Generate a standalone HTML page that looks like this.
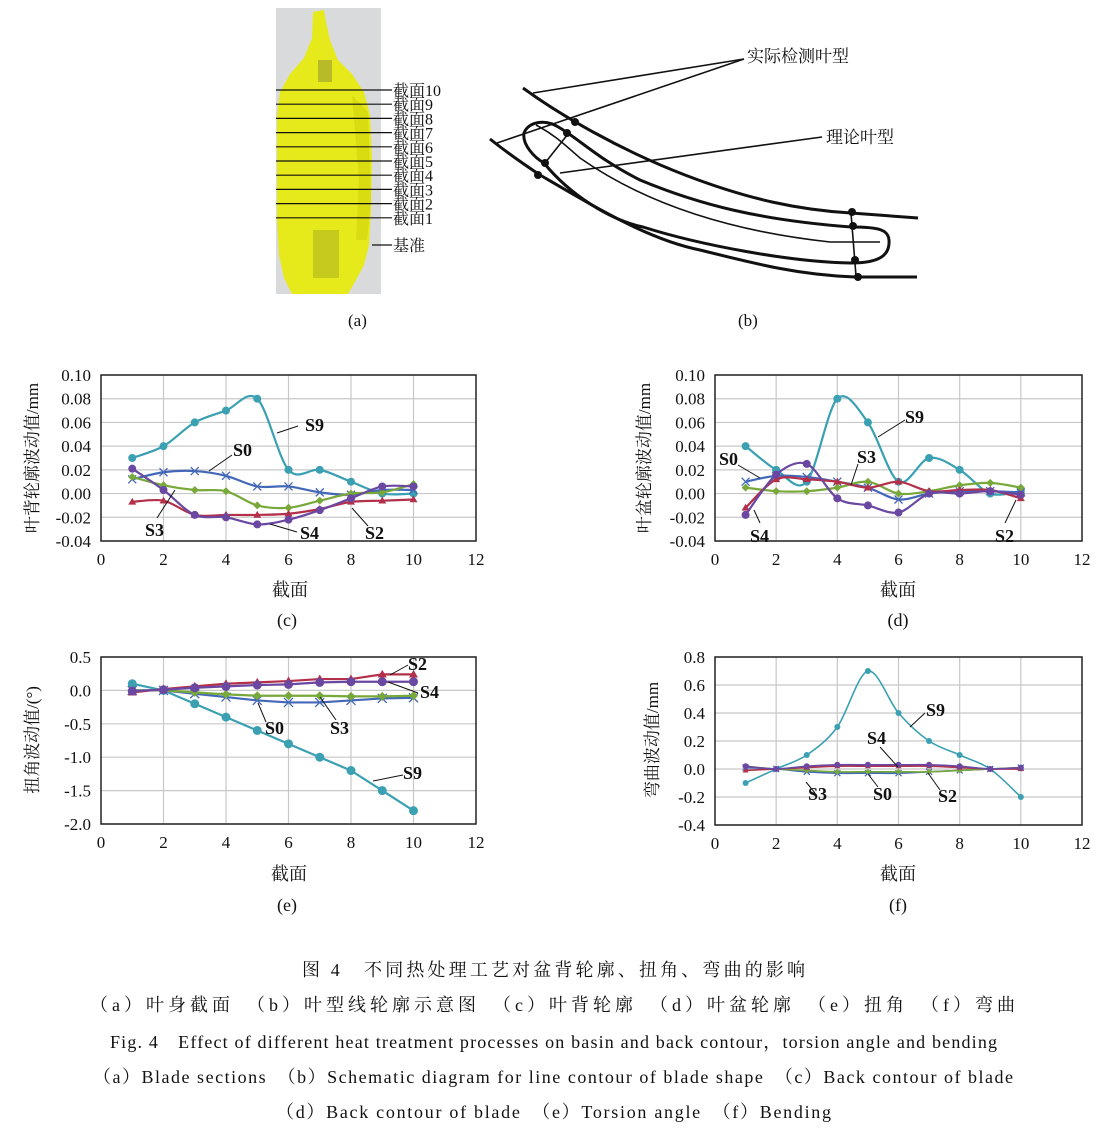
<!DOCTYPE html>
<html><head><meta charset="utf-8"><style>
html,body{margin:0;padding:0;background:#fff;}
svg{display:block}
text{font-family:"Liberation Serif","Noto Serif CJK SC",serif;fill:#111}
</style></head><body>
<svg id="s" width="1120" height="1130" viewBox="0 0 1120 1130" xmlns="http://www.w3.org/2000/svg">
<rect x="276" y="8" width="105" height="286" fill="#d9dadb"/>
<path d="M313,12 L324,10 L326,22 L330,40 L338,60 L352,74 L364,92 L370,115 L372,160 L371,210 L369,245 L364,265 L356,280 L348,294 L292,294 L284,278 L279,255 L277,220 L277,115 L280,92 L290,74 L304,58 L312,38 Z" fill="#e6ea1a"/>
<path d="M352,95 L368,112 L371,200 L367,240 L356,240 L359,180 Z" fill="#d2d60e" opacity="0.7"/>
<rect x="318" y="60" width="14" height="22" fill="#9a9a30" opacity="0.6"/>
<rect x="313" y="230" width="26" height="48" fill="#b8bc20" opacity="0.7"/>
<g stroke="#111" stroke-width="1.2" id="seclines"></g>
<g font-size="16" id="seclabels"></g>
<line x1="372" y1="245" x2="392" y2="245" stroke="#111" stroke-width="1.2"/>
<text x="393" y="251" font-size="16">基准</text>
<text x="348" y="326" font-size="17">(a)</text>
<g fill="none" stroke="#111" stroke-width="3">
<path d="M523,88 C560,115 620,150 685,175 C750,200 800,210 851,213 L918,218"/>
<path d="M490,139 C510,155 525,165 540,175 C600,210 650,240 700,250 C760,265 800,275 855,277 L917,277"/>
<path d="M851,227 C760,220 700,205 640,180 C600,160 580,140 560,128 C545,118 528,122 524,133 C522,145 535,158 544,163 C570,195 610,220 643,227 C700,245 790,262 851,263 C880,263 890,255 889,240 C888,230 880,227 851,227"/>
</g>
<g fill="none" stroke="#111" stroke-width="1.6">
<path d="M536,125 C555,135 565,145 580,158 C640,200 720,230 830,242 L880,242"/>
<path d="M568,134 L545,163"/>
<path d="M851,213 L856,276"/>
<line x1="744" y1="59" x2="533" y2="93"/>
<line x1="744" y1="59" x2="497" y2="143"/>
<line x1="822" y1="137" x2="560" y2="173"/>
</g>
<g fill="#111"><circle cx="575" cy="122" r="4"/><circle cx="567" cy="133" r="4"/><circle cx="545" cy="163" r="4"/><circle cx="538" cy="175" r="4"/><circle cx="852" cy="212" r="4"/><circle cx="853" cy="226" r="4"/><circle cx="855" cy="260" r="4"/><circle cx="858" cy="277" r="4"/></g>
<text x="747" y="62" font-size="17">实际检测叶型</text>
<text x="826" y="143" font-size="17">理论叶型</text>
<text x="738" y="326" font-size="17">(b)</text>
<g id="charts"></g>
<g font-size="18" text-anchor="middle">
<text x="287" y="626">(c)</text><text x="898" y="626">(d)</text>
<text x="287" y="911">(e)</text><text x="898" y="911">(f)</text>
<text x="290" y="596">截面</text><text x="898" y="596">截面</text>
<text x="289" y="880">截面</text><text x="898" y="880">截面</text>
</g>
<g font-size="18">
<text x="302" y="976" textLength="503" lengthAdjust="spacing">图 4　不同热处理工艺对盆背轮廓、扭角、弯曲的影响</text>
<text x="90" y="1011" textLength="925" lengthAdjust="spacing">（a）叶身截面　（b）叶型线轮廓示意图　（c）叶背轮廓　（d）叶盆轮廓　（e）扭角　（f）弯曲</text>
<text x="110" y="1048" textLength="887" lengthAdjust="spacing">Fig. 4　Effect of different heat treatment processes on basin and back contour，torsion angle and bending</text>
<text x="93" y="1083" textLength="920" lengthAdjust="spacing">（a）Blade sections　（b）Schematic diagram for line contour of blade shape　（c）Back contour of blade</text>
<text x="276" y="1118" textLength="555" lengthAdjust="spacing">（d）Back contour of blade　（e）Torsion angle　（f）Bending</text>
</g>
</svg>
<script>
var NS="http://www.w3.org/2000/svg";
function el(p,t,a,txt){var e=document.createElementNS(NS,t);for(var k in a)e.setAttribute(k,a[k]);if(txt!=null)e.textContent=txt;p.appendChild(e);return e;}
var sl=document.getElementById('seclines'),sb=document.getElementById('seclabels');
for(var i=0;i<10;i++){var y=90+i*14.2;el(sl,'line',{x1:276,y1:y,x2:392,y2:y});el(sb,'text',{x:393,y:y+6},'截面'+(10-i));}
var G=document.getElementById('charts');
var C={S9:'#3aa0b2',S0:'#4468b8',S3:'#78a83a',S2:'#b2304a',S4:'#6a48a2'};
var M={S9:'c',S0:'x',S3:'d',S2:'t',S4:'c'};
function smooth(pts){var d='M'+pts[0][0]+','+pts[0][1];for(var i=0;i<pts.length-1;i++){var p0=pts[i-1]||pts[i],p1=pts[i],p2=pts[i+1],p3=pts[i+2]||p2;var t=0.16;d+=' C'+(p1[0]+(p2[0]-p0[0])*t)+','+(p1[1]+(p2[1]-p0[1])*t)+' '+(p2[0]-(p3[0]-p1[0])*t)+','+(p2[1]-(p3[1]-p1[1])*t)+' '+p2[0]+','+p2[1];}return d;}
function chart(o){
 var g=el(G,'g',{});
 var X=function(v){return o.x0+(o.x1-o.x0)*v/12},Y=function(v){return o.y0+(o.y1-o.y0)*(o.ymax-v)/(o.ymax-o.ymin)};
 for(var k=2;k<12;k+=2)el(g,'line',{x1:X(k),y1:o.y0,x2:X(k),y2:o.y1,stroke:'#c8c8c8','stroke-width':1.2});
 for(var v=o.ymin;v<=o.ymax+1e-9;v+=o.step){el(g,'line',{x1:o.x0,y1:Y(v),x2:o.x1,y2:Y(v),stroke:'#c8c8c8','stroke-width':1.2});
  el(g,'text',{x:o.x0-10,y:Y(v)+6,'font-size':17,'text-anchor':'end'},v.toFixed(o.dec));}
 el(g,'rect',{x:o.x0,y:o.y0,width:o.x1-o.x0,height:o.y1-o.y0,fill:'none',stroke:'#222','stroke-width':1.5});
 for(var k=0;k<=12;k+=2)el(g,'text',{x:X(k),y:o.y1+24,'font-size':17,'text-anchor':'middle'},k);
 el(g,'text',{transform:'translate('+o.lx+','+o.ly+') rotate(-90)','font-size':17,'text-anchor':'middle'},o.ylab);
 for(var s in o.d){var pts=o.d[s].map(function(v,i){return [X(i+1),Y(v)]});
  el(g,'path',{d:o.lin?('M'+pts.join(' L')):smooth(pts),fill:'none',stroke:C[s],'stroke-width':o.sw});
  pts.forEach(function(p){var r=o.mr,m=M[s];
   if(m=='c')el(g,'circle',{cx:p[0],cy:p[1],r:r,fill:C[s]});
   else if(m=='d')el(g,'path',{d:'M'+p[0]+','+(p[1]-r)+' l'+r+','+r+' l'+(-r)+','+r+' l'+(-r)+','+(-r)+'z',fill:C[s]});
   else if(m=='t')el(g,'path',{d:'M'+p[0]+','+(p[1]-r)+' l'+r+','+(1.7*r)+' l'+(-2*r)+',0z',fill:C[s]});
   else el(g,'path',{d:'M'+(p[0]-r)+','+(p[1]-r)+' l'+2*r+','+2*r+' m0,'+(-2*r)+' l'+(-2*r)+','+2*r,stroke:C[s],'stroke-width':1.3});});}
 o.lab.forEach(function(l){el(g,'line',{x1:l[3],y1:l[4],x2:l[5],y2:l[6],stroke:'#111','stroke-width':1});el(g,'text',{x:l[0],y:l[1],'font-size':18,'font-weight':'bold'},l[2]);});
}
chart({x0:101,x1:476,y0:375,y1:541,ymin:-0.04,ymax:0.10,step:0.02,dec:2,lx:38,ly:458,ylab:'叶背轮廓波动值/mm',sw:2.2,mr:4,
 d:{S9:[0.03,0.04,0.06,0.07,0.08,0.02,0.02,0.01,0,0],S0:[0.012,0.018,0.019,0.015,0.006,0.006,0.001,-0.001,0.003,0.003],S3:[0.014,0.007,0.003,0.002,-0.010,-0.012,-0.006,0,0.001,0.008],S2:[-0.007,-0.006,-0.018,-0.018,-0.018,-0.017,-0.013,-0.007,-0.006,-0.005],S4:[0.021,0.003,-0.018,-0.020,-0.026,-0.022,-0.014,-0.004,0.006,0.006]},
 lab:[[305,431,'S9',277,433,298,426],[233,456,'S0',209,471,232,455],[145,536,'S3',157,518,175,490],[300,539,'S4',270,524,297,532],[365,539,'S2',352,508,368,526]]});
chart({x0:715,x1:1082,y0:375,y1:541,ymin:-0.04,ymax:0.10,step:0.02,dec:2,lx:650,ly:458,ylab:'叶盆轮廓波动值/mm',sw:2.2,mr:4,
 d:{S9:[0.04,0.02,0.01,0.08,0.06,0.01,0.03,0.02,0,0.002],S0:[0.01,0.015,0.014,0.01,0.005,-0.005,0,0.002,0.002,0.001],S3:[0.005,0.002,0.002,0.005,0.01,0,0.002,0.007,0.009,0.005],S2:[-0.012,0.012,0.012,0.01,0.005,0.01,0.002,0.003,0.003,-0.004],S4:[-0.018,0.016,0.025,-0.004,-0.01,-0.016,0,0,0.002,-0.001]},
 lab:[[905,423,'S9',878,437,905,420],[719,465,'S0',738,465,760,478],[857,463,'S3',858,464,851,485],[750,542,'S4',760,523,754,510],[995,542,'S2',1005,523,1016,500]]});
chart({x0:101,x1:476,y0:657,y1:824,ymin:-2.0,ymax:0.5,step:0.5,dec:1,lx:38,ly:740,ylab:'扭角波动值/(°)',sw:2.2,mr:4.5,
 d:{S9:[0.1,0,-0.2,-0.4,-0.6,-0.8,-1.0,-1.2,-1.5,-1.8],S0:[0,0,-0.05,-0.1,-0.15,-0.18,-0.18,-0.15,-0.12,-0.11],S3:[0,0,-0.03,-0.06,-0.08,-0.08,-0.08,-0.09,-0.09,-0.08],S2:[-0.03,0.02,0.06,0.1,0.12,0.14,0.17,0.17,0.24,0.24],S4:[-0.01,0.01,0.04,0.06,0.08,0.09,0.12,0.13,0.13,0.13]},lin:1,
 lab:[[408,670,'S2',390,675,408,665],[420,698,'S4',388,682,418,693],[265,734,'S0',258,703,266,722],[330,734,'S3',320,697,336,720],[403,779,'S9',373,781,403,775]]});
chart({x0:715,x1:1082,y0:657,y1:825,ymin:-0.4,ymax:0.8,step:0.2,dec:1,lx:658,ly:740,ylab:'弯曲波动值/mm',sw:1.6,mr:3,
 d:{S9:[-0.1,0,0.1,0.3,0.7,0.4,0.2,0.1,0,-0.2],S0:[0.01,0,-0.02,-0.03,-0.03,-0.03,-0.02,-0.01,0,0.01],S3:[0.02,0,-0.01,-0.02,-0.02,-0.02,-0.02,-0.01,0,0.01],S2:[-0.01,0,0.01,0.02,0.02,0.02,0.02,0.01,0,0],S4:[0.02,0,0.02,0.03,0.03,0.03,0.03,0.02,0,0.01]},
 lab:[[926,716,'S9',910,727,925,713],[867,744,'S4',880,747,898,767],[808,800,'S3',806,782,815,793],[873,800,'S0',868,774,878,787],[938,802,'S2',928,773,940,790]]});
</script>
</body></html>
